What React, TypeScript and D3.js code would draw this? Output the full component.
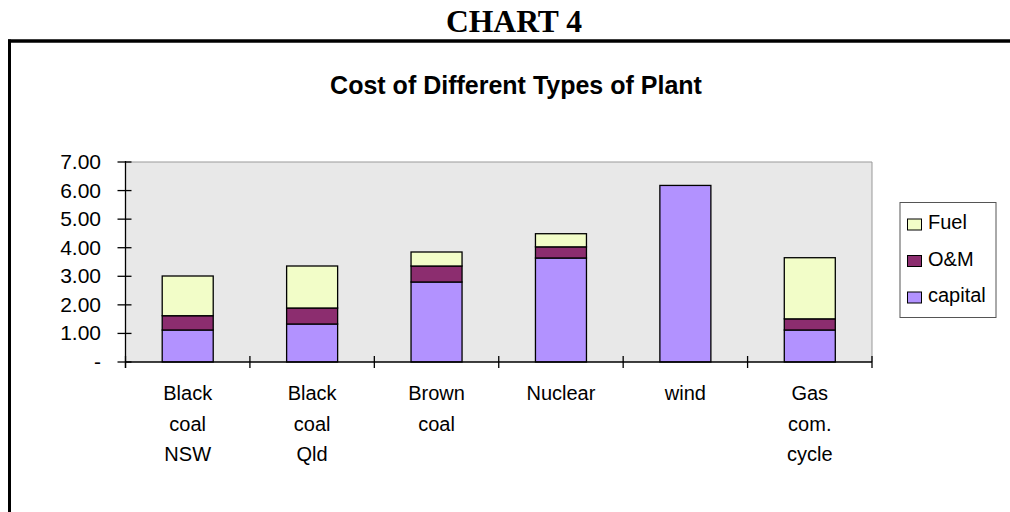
import React from "react";
import * as d3 from "d3";

const categories: string[][] = [
  ["Black", "coal", "NSW"],
  ["Black", "coal", "Qld"],
  ["Brown", "coal"],
  ["Nuclear"],
  ["wind"],
  ["Gas", "com.", "cycle"],
];
const capital = [1.12, 1.33, 2.8, 3.64, 6.18, 1.12];
const om = [0.5, 0.56, 0.56, 0.39, 0, 0.39];
const fuel = [1.39, 1.47, 0.49, 0.46, 0, 2.14];
const seriesNames = ["capital", "O&M", "Fuel"];
const seriesColors = ["#B292FF", "#8C2D6F", "#F2FDC8"];
const yTicks = [0, 1, 2, 3, 4, 5, 6, 7];

export default function App() {
  const W = 1010, H = 512;
  const left = 125.5, right = 872, top = 162, bottom = 362;
  const ids = categories.map((_, i) => String(i));
  const x = d3.scaleBand<string>().domain(ids).range([left, right]).padding(0);
  const y = d3.scaleLinear().domain([0, 7]).range([bottom, top]);
  const barW = x.step() * 0.41;

  const rows = ids.map((id, i) => ({ id, capital: capital[i], om: om[i], fuel: fuel[i] }));
  const stack = d3.stack<any>().keys(["capital", "om", "fuel"])(rows);

  const font = "Arial, 'Liberation Sans', sans-serif";
  const legendOrder = [2, 1, 0];

  return (
    <svg width={W} height={H} style={{ position: "fixed", left: 0, top: 0, background: "#fff" }}>
      <text x={514} y={31.5} textAnchor="middle" fontFamily="'Liberation Serif', 'Times New Roman', serif" fontWeight="bold" fontSize={31} textLength={136} lengthAdjust="spacingAndGlyphs">
        CHART 4
      </text>
      <line x1={8} y1={41} x2={W} y2={41} stroke="#000" strokeWidth={3.5} />
      <line x1={9.5} y1={39.5} x2={9.5} y2={H} stroke="#000" strokeWidth={3} />
      <text x={516} y={94} textAnchor="middle" fontFamily={font} fontWeight="bold" fontSize={25}>
        Cost of Different Types of Plant
      </text>

      <rect x={left} y={top} width={right - left} height={bottom - top} fill="#E8E8E8" />
      <polyline points={`${left},${top} ${right},${top} ${right},${bottom}`} fill="none" stroke="#999" strokeWidth={1} />

      {stack.map((s, si) =>
        s.map((d, i) => (
          <rect
            key={`${si}-${i}`}
            x={(x(ids[i]) as number) + (x.step() - barW) / 2}
            y={y(d[1])}
            width={barW}
            height={y(d[0]) - y(d[1])}
            fill={seriesColors[si]}
            stroke="#000"
            strokeWidth={1.3}
          />
        ))
      )}

      <line x1={left} y1={top - 1} x2={left} y2={bottom + 6} stroke="#000" strokeWidth={1.3} />
      <line x1={left} y1={bottom} x2={right} y2={bottom} stroke="#000" strokeWidth={1.3} />
      {yTicks.map((t) => (
        <g key={t}>
          <line x1={left - 8} x2={left + 6} y1={y(t)} y2={y(t)} stroke="#000" strokeWidth={1.3} />
          <text x={101} y={y(t) + 7} textAnchor="end" fontFamily={font} fontSize={21}>
            {t === 0 ? "-" : t.toFixed(2)}
          </text>
        </g>
      ))}
      {d3.range(ids.length + 1).map((i) => {
        const xx = left + i * x.step();
        return <line key={i} x1={xx} x2={xx} y1={bottom - 6} y2={bottom + 6} stroke="#000" strokeWidth={1.3} />;
      })}
      {categories.map((lines, i) => (
        <text key={i} textAnchor="middle" fontFamily={font} fontSize={20}>
          {lines.map((l, j) => (
            <tspan key={j} x={(x(ids[i]) as number) + x.step() / 2} y={400 + j * 30.5}>
              {l}
            </tspan>
          ))}
        </text>
      ))}

      <rect x={900} y={202.5} width={96} height={115} fill="#fff" stroke="#555" strokeWidth={1} />
      {legendOrder.map((si, k) => (
        <g key={si}>
          <rect x={907.5} y={219 + k * 36.5} width={14} height={11} fill={seriesColors[si]} stroke="#000" strokeWidth={1} />
          <text x={928} y={229 + k * 36.5} fontFamily={font} fontSize={20}>
            {seriesNames[si]}
          </text>
        </g>
      ))}
    </svg>
  );
}
